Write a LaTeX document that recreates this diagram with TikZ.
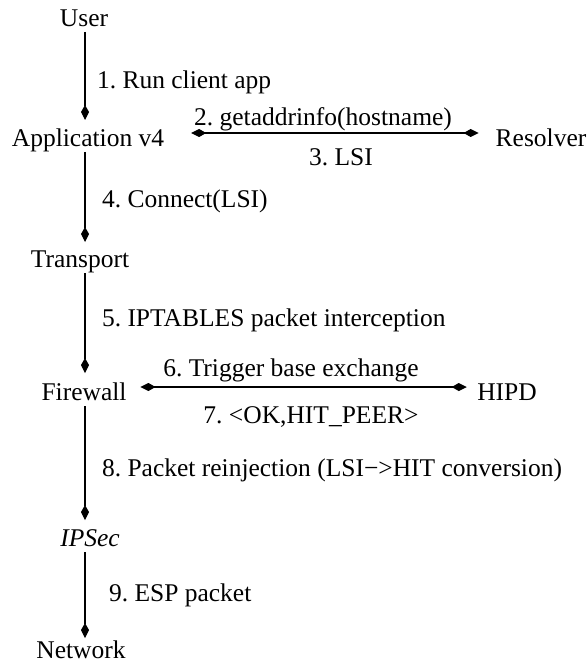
\documentclass[tikz,border=0pt]{standalone}
\usepackage{fontspec}
\setmainfont{Liberation Serif}
\usetikzlibrary{arrows.meta}
\frenchspacing
\begin{document}
\begin{tikzpicture}[x=1pt,y=-1pt,
  every node/.style={inner sep=0pt, outer sep=0pt, text height=17pt, text depth=0pt,
                     font=\fontsize{25.5}{29}\selectfont},
  layer/.style={anchor=center},
  msg/.style={anchor=west},
  cmsg/.style={anchor=center},
  tipk/.tip={Kite[length=15pt,width=8pt,inset=7pt]},
  link/.style={line width=1.1pt, -tipk},
  dlink/.style={line width=1.1pt, tipk-tipk}]
  \useasboundingbox (0,0) rectangle (587,663);
  \coordinate (spine) at (85,0);

  % stack of layers
  \node[layer] (user)      at (84,18)  {User};
  \node[layer] (app)       at (88,138) {Application v4};
  \node[layer] (resolver)  at (541,138) {Resolver};
  \node[layer] (transport) at (80,259) {Transport};
  \node[layer] (firewall)  at (84,392) {Firewall};
  \node[layer] (hipd)      at (507,392) {HIPD};
  \node[layer] (ipsec)     at (90,538) {\itshape IPSec};
  \node[layer] (network)   at (81,650) {Network};

  % vertical flow
  \draw[link, shorten <=5.5pt, shorten >=9.5pt] (user.south -| spine) -- (app.north -| spine);
  \draw[link, shorten <=5.5pt, shorten >=8.5pt] (app.south -| spine) -- (transport.north -| spine);
  \draw[link, shorten <=5.5pt, shorten >=10.5pt] (transport.south -| spine) -- (firewall.north -| spine);
  \draw[link, shorten <=5.5pt, shorten >=9.5pt] (firewall.south -| spine) -- (ipsec.north -| spine);
  \draw[link, shorten <=5.5pt, shorten >=3.5pt] (ipsec.south -| spine) -- (network.north -| spine);

  % side exchanges
  \draw[dlink, shorten <=27pt, shorten >=17pt] ([yshift=5pt]app.east) -- ([yshift=5pt]app.east -| resolver.west);
  \draw[dlink, shorten <=14pt, shorten >=10.5pt] ([yshift=5pt]firewall.east) -- ([yshift=5pt]firewall.east -| hipd.west);

  % step labels
  \node[msg]  (m1) at (97,80)   {1. Run client app};
  \node[cmsg] (m2) at (323,117) {2. getaddrinfo(hostname)};
  \node[cmsg] (m3) at (341,157) {3. LSI};
  \node[msg]  (m4) at (102,199) {4. Connect(LSI)};
  \node[msg]  (m5) at (102,318) {5. IPTABLES packet interception};
  \node[cmsg] (m6) at (291,368) {6. Trigger base exchange};
  \node[cmsg] (m7) at (311,415) {7. <OK,HIT\_PEER>};
  \node[msg]  (m8) at (102,468) {8. Packet reinjection (LSI−>HIT conversion)};
  \node[msg]  (m9) at (109,593) {9. ESP packet};
\end{tikzpicture}
\end{document}
